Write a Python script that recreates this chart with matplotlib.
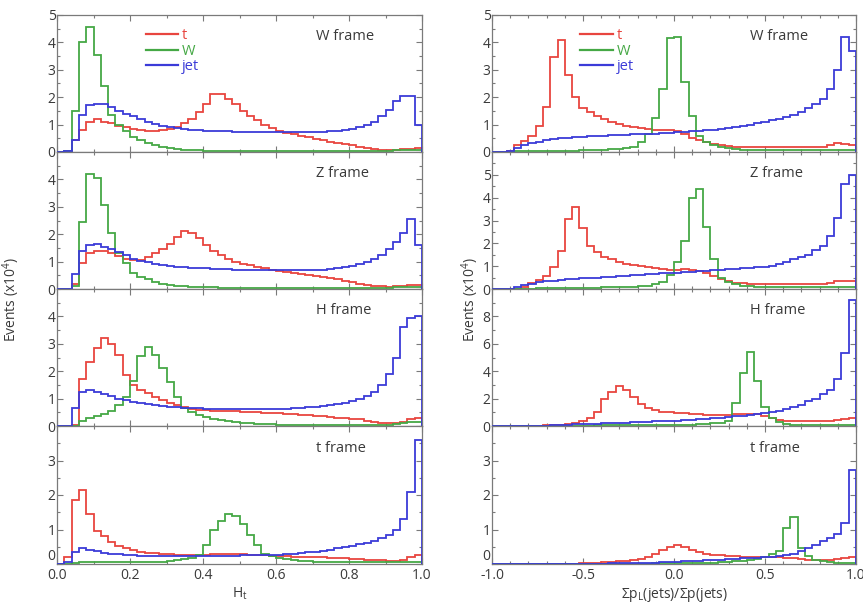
import matplotlib
matplotlib.use('Agg')
import matplotlib.pyplot as plt
import numpy as np
from matplotlib.lines import Line2D
from matplotlib.ticker import MultipleLocator

plt.rcParams['font.family'] = ['Open Sans', 'DejaVu Sans']
plt.rcParams['mathtext.default'] = 'regular'

# ---------------- data: 50 bins per histogram ----------------
# Left column: H_t in 0..1
Ht_W_t = [0, 0.05, 0.45, 0.8, 1.1, 1.2, 1.1, 1.05, 0.95, 0.9,
          0.85, 0.8, 0.78, 0.78, 0.8, 0.85, 0.92, 1.05, 1.2, 1.45,
          1.75, 2.1, 2.1, 1.95, 1.75, 1.5, 1.3, 1.15, 1.0, 0.88,
          0.77, 0.7, 0.64, 0.58, 0.53, 0.48, 0.43, 0.38, 0.33, 0.29,
          0.25, 0.2, 0.16, 0.12, 0.09, 0.07, 0.08, 0.1, 0.12, 0.15]
Ht_W_W = [0, 0.02, 1.5, 4.0, 4.55, 3.55, 2.4, 1.35, 1.0, 0.75,
          0.55, 0.42, 0.32, 0.24, 0.18, 0.13, 0.1, 0.08, 0.07, 0.06,
          0.05, 0.05, 0.05, 0.05, 0.05, 0.05, 0.05, 0.05, 0.05, 0.05,
          0.05, 0.05, 0.05, 0.05, 0.05, 0.05, 0.05, 0.05, 0.05, 0.05,
          0.05, 0.05, 0.05, 0.05, 0.05, 0.05, 0.06, 0.07, 0.08, 0.08]
Ht_W_jet = [0, 0.05, 0.45, 1.35, 1.7, 1.75, 1.75, 1.65, 1.5, 1.4,
            1.3, 1.2, 1.1, 1.02, 0.96, 0.91, 0.87, 0.84, 0.82, 0.8,
            0.78, 0.77, 0.76, 0.75, 0.74, 0.74, 0.73, 0.73, 0.73, 0.73,
            0.73, 0.73, 0.73, 0.73, 0.73, 0.73, 0.74, 0.75, 0.77, 0.8,
            0.84, 0.9, 0.98, 1.1, 1.3, 1.55, 1.85, 2.05, 2.05, 1.0]

Ht_Z_t = [0, 0, 0.2, 0.95, 1.3, 1.38, 1.38, 1.3, 1.2, 1.1,
          1.05, 1.05, 1.15, 1.3, 1.45, 1.65, 1.9, 2.1, 2.05, 1.85,
          1.6, 1.4, 1.25, 1.1, 1.0, 0.92, 0.86, 0.8, 0.75, 0.71,
          0.67, 0.63, 0.6, 0.56, 0.52, 0.48, 0.44, 0.4, 0.35, 0.3,
          0.25, 0.2, 0.16, 0.12, 0.1, 0.09, 0.1, 0.12, 0.14, 0.15]
Ht_Z_W = [0, 0, 0.1, 2.45, 4.2, 4.05, 3.05, 2.05, 1.3, 0.95,
          0.6, 0.45, 0.35, 0.25, 0.2, 0.15, 0.12, 0.1, 0.08, 0.07,
          0.06, 0.06, 0.05, 0.05, 0.05, 0.05, 0.05, 0.05, 0.05, 0.05,
          0.05, 0.05, 0.05, 0.05, 0.05, 0.05, 0.05, 0.05, 0.05, 0.05,
          0.05, 0.05, 0.05, 0.05, 0.05, 0.05, 0.06, 0.07, 0.08, 0.08]
Ht_Z_jet = [0, 0, 0.55, 1.4, 1.6, 1.65, 1.55, 1.45, 1.35, 1.25,
            1.1, 1.02, 0.97, 0.92, 0.88, 0.85, 0.82, 0.8, 0.78, 0.76,
            0.75, 0.74, 0.73, 0.72, 0.71, 0.7, 0.7, 0.69, 0.69, 0.68,
            0.68, 0.68, 0.68, 0.68, 0.68, 0.68, 0.7, 0.72, 0.75, 0.8,
            0.85, 0.92, 1.0, 1.1, 1.25, 1.45, 1.7, 2.05, 2.55, 1.6]

Ht_H_t = [0, 0, 0.05, 1.7, 2.35, 2.85, 3.2, 3.0, 2.6, 1.85,
          1.5, 1.3, 1.2, 1.05, 0.95, 0.85, 0.75, 0.68, 0.62, 0.6,
          0.58, 0.56, 0.55, 0.54, 0.53, 0.52, 0.51, 0.5, 0.49, 0.48,
          0.47, 0.45, 0.43, 0.41, 0.39, 0.37, 0.35, 0.33, 0.31, 0.29,
          0.27, 0.25, 0.2, 0.15, 0.12, 0.1, 0.1, 0.15, 0.25, 0.3]
Ht_H_W = [0, 0, 0, 0.2, 0.3, 0.38, 0.45, 0.55, 0.75, 1.05,
          1.65, 2.55, 2.9, 2.6, 2.1, 1.6, 1.05, 0.65, 0.5, 0.4,
          0.32, 0.26, 0.21, 0.17, 0.14, 0.12, 0.1, 0.08, 0.07, 0.06,
          0.05, 0.05, 0.05, 0.05, 0.05, 0.05, 0.05, 0.05, 0.05, 0.05,
          0.05, 0.05, 0.05, 0.05, 0.05, 0.05, 0.07, 0.1, 0.13, 0.15]
Ht_H_jet = [0, 0, 0.65, 1.25, 1.3, 1.25, 1.18, 1.1, 1.0, 0.95,
            0.88, 0.83, 0.79, 0.75, 0.72, 0.7, 0.68, 0.66, 0.65, 0.64,
            0.63, 0.63, 0.62, 0.62, 0.62, 0.62, 0.62, 0.62, 0.62, 0.62,
            0.62, 0.63, 0.64, 0.66, 0.68, 0.7, 0.72, 0.76, 0.8, 0.85,
            0.92, 1.0, 1.1, 1.25, 1.5, 1.9, 2.5, 3.6, 3.95, 4.0]

Ht_t_t = [0, 0.2, 1.85, 2.15, 1.45, 0.95, 0.8, 0.65, 0.52, 0.45,
          0.4, 0.36, 0.33, 0.31, 0.29, 0.28, 0.27, 0.26, 0.26, 0.26,
          0.27, 0.28, 0.29, 0.3, 0.29, 0.28, 0.27, 0.26, 0.25, 0.24,
          0.23, 0.22, 0.21, 0.2, 0.2, 0.19, 0.19, 0.18, 0.18, 0.17,
          0.15, 0.14, 0.13, 0.12, 0.11, 0.1, 0.1, 0.12, 0.2, 0.25]
Ht_t_W = [0, 0, 0.03, 0.05, 0.05, 0.05, 0.05, 0.05, 0.05, 0.05,
          0.05, 0.05, 0.05, 0.06, 0.07, 0.09, 0.11, 0.14, 0.18, 0.25,
          0.55, 1.0, 1.25, 1.45, 1.38, 1.15, 0.85, 0.55, 0.3, 0.22,
          0.18, 0.15, 0.12, 0.1, 0.08, 0.07, 0.06, 0.05, 0.05, 0.05,
          0.05, 0.05, 0.05, 0.05, 0.05, 0.05, 0.05, 0.05, 0.05, 0.05]
Ht_t_jet = [0, 0.05, 0.35, 0.45, 0.42, 0.38, 0.33, 0.3, 0.28, 0.26,
            0.25, 0.24, 0.24, 0.23, 0.23, 0.23, 0.23, 0.23, 0.23, 0.23,
            0.23, 0.23, 0.24, 0.24, 0.24, 0.25, 0.25, 0.25, 0.26, 0.26,
            0.27, 0.28, 0.3, 0.32, 0.34, 0.36, 0.39, 0.42, 0.45, 0.48,
            0.52, 0.57, 0.62, 0.68, 0.75, 0.85, 1.0, 1.3, 2.1, 3.6]

# Right column: sum pL / sum p in -1..1
pl_W_t = [0, 0, 0.05, 0.25, 0.4, 0.6, 0.95, 1.65, 3.45, 4.1,
          2.8, 2.0, 1.6, 1.45, 1.3, 1.2, 1.1, 1.02, 0.95, 0.9,
          0.86, 0.83, 0.82, 0.82, 0.8, 0.75, 0.65, 0.52, 0.42, 0.35,
          0.3, 0.26, 0.23, 0.2, 0.19, 0.18, 0.18, 0.18, 0.18, 0.18,
          0.18, 0.18, 0.18, 0.18, 0.19, 0.2, 0.25, 0.32, 0.3, 0.25]
pl_W_W = [0, 0, 0.01, 0.02, 0.02, 0.03, 0.03, 0.04, 0.04, 0.05,
          0.05, 0.05, 0.06, 0.07, 0.08, 0.09, 0.1, 0.12, 0.15, 0.2,
          0.35, 0.65, 1.25, 2.3, 4.15, 4.2, 2.55, 1.3, 0.6, 0.35,
          0.25, 0.18, 0.13, 0.1, 0.08, 0.07, 0.07, 0.07, 0.07, 0.07,
          0.07, 0.07, 0.07, 0.07, 0.07, 0.07, 0.07, 0.07, 0.07, 0.07]
pl_W_jet = [0, 0, 0.05, 0.15, 0.25, 0.32, 0.38, 0.42, 0.46, 0.5,
            0.52, 0.54, 0.56, 0.57, 0.58, 0.6, 0.61, 0.62, 0.63, 0.64,
            0.65, 0.66, 0.67, 0.68, 0.7, 0.72, 0.74, 0.76, 0.78, 0.8,
            0.82, 0.84, 0.87, 0.9, 0.94, 0.99, 1.05, 1.1, 1.15, 1.2,
            1.28, 1.35, 1.45, 1.6, 1.75, 1.95, 2.3, 3.0, 4.2, 3.7]

pl_Z_t = [0, 0, 0, 0.02, 0.1, 0.25, 0.4, 0.55, 0.95, 1.65,
          3.05, 3.6, 2.65, 1.9, 1.6, 1.4, 1.3, 1.2, 1.1, 1.05,
          1.0, 0.95, 0.9, 0.87, 0.85, 0.85, 0.87, 0.85, 0.8, 0.7,
          0.55, 0.42, 0.33, 0.28, 0.25, 0.23, 0.22, 0.22, 0.22, 0.22,
          0.22, 0.22, 0.22, 0.22, 0.22, 0.23, 0.27, 0.35, 0.37, 0.37]
pl_Z_W = [0, 0, 0, 0.01, 0.02, 0.02, 0.03, 0.03, 0.04, 0.04,
          0.05, 0.05, 0.05, 0.06, 0.06, 0.07, 0.07, 0.08, 0.09, 0.1,
          0.12, 0.15, 0.2, 0.3, 0.6, 1.2, 2.1, 4.0, 4.4, 2.7,
          1.3, 0.5, 0.3, 0.2, 0.15, 0.12, 0.1, 0.09, 0.08, 0.08,
          0.08, 0.08, 0.08, 0.08, 0.08, 0.08, 0.08, 0.08, 0.08, 0.08]
pl_Z_jet = [0, 0, 0.02, 0.1, 0.18, 0.24, 0.29, 0.33, 0.36, 0.39,
            0.42, 0.44, 0.46, 0.48, 0.5, 0.52, 0.54, 0.56, 0.58, 0.6,
            0.62, 0.64, 0.66, 0.68, 0.7, 0.72, 0.74, 0.76, 0.78, 0.8,
            0.82, 0.84, 0.86, 0.88, 0.9, 0.92, 0.95, 0.98, 1.02, 1.08,
            1.17, 1.3, 1.4, 1.5, 1.7, 1.9, 2.3, 3.1, 4.6, 4.98]

pl_H_t = [0, 0, 0, 0, 0, 0, 0.02, 0.04, 0.06, 0.1,
          0.15, 0.22, 0.35, 0.6, 1.0, 2.0, 2.5, 2.95, 2.6, 2.1,
          1.6, 1.3, 1.15, 1.05, 1.0, 0.95, 0.92, 0.88, 0.85, 0.83,
          0.82, 0.82, 0.83, 0.85, 0.88, 0.9, 0.85, 0.7, 0.55, 0.45,
          0.4, 0.37, 0.35, 0.35, 0.35, 0.36, 0.38, 0.42, 0.5, 0.55]
pl_H_W = [0, 0, 0, 0, 0, 0.01, 0.01, 0.02, 0.02, 0.02,
          0.03, 0.03, 0.03, 0.03, 0.04, 0.04, 0.04, 0.05, 0.05, 0.05,
          0.05, 0.05, 0.05, 0.05, 0.06, 0.07, 0.08, 0.1, 0.12, 0.15,
          0.2, 0.25, 0.35, 1.7, 3.9, 5.4, 3.3, 1.4, 0.6, 0.3,
          0.15, 0.1, 0.08, 0.06, 0.06, 0.06, 0.06, 0.06, 0.06, 0.06]
pl_H_jet = [0, 0, 0, 0, 0, 0.01, 0.02, 0.03, 0.05, 0.07,
            0.09, 0.11, 0.13, 0.15, 0.17, 0.19, 0.21, 0.23, 0.25, 0.27,
            0.29, 0.31, 0.33, 0.35, 0.37, 0.4, 0.43, 0.46, 0.5, 0.54,
            0.58, 0.62, 0.66, 0.7, 0.75, 0.8, 0.85, 0.92, 1.0, 1.1,
            1.25, 1.4, 1.55, 1.8, 2.0, 2.3, 2.65, 3.4, 5.35, 9.2]

pl_t_t = [0, 0, 0, 0, 0, 0, 0, 0, 0, 0,
          0.01, 0.01, 0.02, 0.03, 0.04, 0.05, 0.06, 0.08, 0.1, 0.12,
          0.15, 0.2, 0.28, 0.4, 0.5, 0.55, 0.48, 0.4, 0.34, 0.3,
          0.27, 0.25, 0.23, 0.22, 0.21, 0.2, 0.2, 0.2, 0.2, 0.19,
          0.18, 0.16, 0.14, 0.13, 0.12, 0.12, 0.13, 0.15, 0.18, 0.2]
pl_t_W = [0, 0, 0, 0, 0, 0, 0, 0, 0, 0,
          0, 0, 0, 0, 0.01, 0.01, 0.01, 0.01, 0.01, 0.01,
          0.01, 0.01, 0.02, 0.02, 0.02, 0.02, 0.03, 0.03, 0.04, 0.04,
          0.04, 0.05, 0.06, 0.08, 0.1, 0.12, 0.15, 0.2, 0.28, 0.37,
          1.05, 1.35, 0.45, 0.22, 0.12, 0.08, 0.05, 0.04, 0.03, 0.03]
pl_t_jet = [0, 0, 0, 0, 0, 0, 0, 0, 0, 0,
            0, 0, 0, 0, 0, 0.01, 0.02, 0.02, 0.02, 0.02,
            0.02, 0.03, 0.04, 0.05, 0.06, 0.07, 0.08, 0.09, 0.1, 0.11,
            0.12, 0.13, 0.14, 0.15, 0.16, 0.17, 0.18, 0.19, 0.2, 0.22,
            0.25, 0.3, 0.37, 0.47, 0.56, 0.66, 0.75, 0.87, 1.2, 2.73]

series_labels = ['t', 'W', 'jet']
frame_names = ['W frame', 'Z frame', 'H frame', 't frame']
left_ylims = [5, 5, 5, 4]
right_ylims = [5, 6, 10, 4]
left_xticks = [0.0, 0.2, 0.4, 0.6, 0.8, 1.0]
right_xticks = [-1.0, -0.5, 0.0, 0.5, 1.0]

left_data = [[Ht_W_t, Ht_W_W, Ht_W_jet], [Ht_Z_t, Ht_Z_W, Ht_Z_jet],
             [Ht_H_t, Ht_H_W, Ht_H_jet], [Ht_t_t, Ht_t_W, Ht_t_jet]]
right_data = [[pl_W_t, pl_W_W, pl_W_jet], [pl_Z_t, pl_Z_W, pl_Z_jet],
              [pl_H_t, pl_H_W, pl_H_jet], [pl_t_t, pl_t_W, pl_t_jet]]

# ---------------- styling ----------------
colors = ['#e8453f', '#45a845', '#3b3bd8']
txt_color = '#3a3a3a'
spine_color = '#7a7a7a'
W_PX, H_PX = 863, 606
row_edges = [15, 152, 289, 426, 564]

fig = plt.figure(figsize=(W_PX / 100, H_PX / 100), dpi=100)


def make_column(x0px, wpx, data, ylims, xlim, xticks, xminor, xlabel, ylabel_x):
    edges = np.linspace(xlim[0], xlim[1], 51)
    axes = []
    for r in range(4):
        top, bot = row_edges[r], row_edges[r + 1]
        ax = fig.add_axes([x0px / W_PX, 1 - bot / H_PX, wpx / W_PX, (bot - top) / H_PX])
        order = [1, 0, 2]
        for k in order:
            ax.stairs(data[r][k], edges, color=colors[k], lw=1.3, baseline=0, zorder=2 + k)
        ax.set_xlim(*xlim)
        ylim = ylims[r]
        ax.set_ylim(0, ylim)
        step = 2 if ylim >= 10 else 1
        top_t = ylim if r == 0 else ylim - step
        ax.set_yticks(np.arange(0, top_t + 0.01, step))
        ax.yaxis.set_minor_locator(MultipleLocator(step / 2))
        ax.set_xticks(xticks)
        ax.xaxis.set_minor_locator(MultipleLocator(xminor))
        ax.tick_params(which='both', direction='in', top=True, right=True,
                       colors=spine_color, labelcolor=txt_color, labelsize=10,
                       width=0.8, pad=3)
        ax.tick_params(which='major', length=4)
        ax.tick_params(which='minor', length=2.5)
        ax.tick_params(axis='y', pad=1)
        for s in ax.spines.values():
            s.set_color(spine_color)
            s.set_linewidth(0.9)
        if r < 3:
            ax.tick_params(labelbottom=False)
        else:
            ax.set_xticklabels([f'{v:.1f}' for v in xticks])
            ax.set_xlabel(xlabel, fontsize=10, color=txt_color, labelpad=2)
            # lift the lowest y label so it sits above the x labels
            ax.get_yticklabels()[0].set_va('bottom')
        ax.text(0.71, 0.84, frame_names[r], transform=ax.transAxes, fontsize=10.5,
                color=txt_color, ha='left', va='center')
        if r == 0:
            handles = [Line2D([], [], color=colors[k], lw=1.6) for k in range(3)]
            ax.legend(handles, series_labels, loc='upper left',
                      bbox_to_anchor=(0.215, 0.98), frameon=False,
                      labelcolor=colors, fontsize=10.5, handlelength=2.2,
                      handletextpad=0.3, labelspacing=0.05, borderpad=0.2)
        axes.append(ax)
    fig.text(ylabel_x / W_PX, 1 - 300 / H_PX, 'Events (x10$^4$)', rotation=90,
             ha='center', va='center', fontsize=10, color=txt_color)
    return axes


make_column(57, 365, left_data, left_ylims, (0, 1), left_xticks, 0.1,
            'H$_{t}$', 11)
make_column(492, 364, right_data, right_ylims, (-1, 1), right_xticks, 0.1,
            '\u03a3p$_{L}$(jets)/\u03a3p(jets)', 470)

fig.savefig('out.png', dpi=100)
